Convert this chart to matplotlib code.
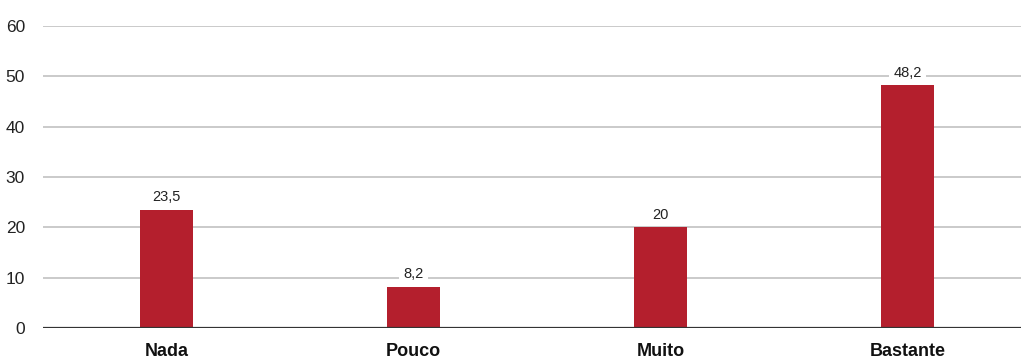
import matplotlib
matplotlib.use("Agg")
import matplotlib.pyplot as plt
from matplotlib import font_manager

categories = ["Nada", "Pouco", "Muito", "Bastante"]
values = [23.5, 8.2, 20, 48.2]
value_labels = ["23,5", "8,2", "20", "48,2"]
yticks = [0, 10, 20, 30, 40, 50, 60]

names = {f.name for f in font_manager.fontManager.ttflist}
family = [f for f in ["Liberation Sans Narrow", "DejaVu Sans Condensed", "Liberation Sans"] if f in names] + ["DejaVu Sans"]
plt.rcParams["font.family"] = family

W, H = 1021, 362
fig = plt.figure(figsize=(W / 100, H / 100), dpi=100)
ax = fig.add_axes([43 / W, (H - 328) / H, 1 - 43 / W, (328 - 26) / H])

bar_color = "#B41F2D"
x = list(range(len(categories)))
ax.bar(x, values, width=0.215, color=bar_color, zorder=5)

for xi, v, lab in zip(x, values, value_labels):
    ax.annotate(lab, (xi, v), xytext=(0, 4), textcoords="offset points",
                ha="center", va="bottom", fontsize=10.5, color="#222222", zorder=4,
                bbox=dict(boxstyle="square,pad=0.3", fc="white", ec="none"))

ax.set_ylim(0, 60)
ax.set_xlim(-0.5, 3.5 - 10 / 247)
ax.set_yticks(yticks)
ax.set_yticklabels([str(t) for t in yticks], fontsize=12.5, color="#222222")
ax.set_xticks(x)
ax.set_xticklabels(categories, fontsize=13, fontweight="bold", color="#111111")
ax.tick_params(axis="both", length=0)
ax.tick_params(axis="y", pad=13)
ax.tick_params(axis="x", pad=11)

for t in yticks[1:]:
    ax.axhline(t, color="#C6C6C6", lw=1.3, zorder=1)
ax.axhline(0, color="#333333", lw=1.6, zorder=6)

for s in ax.spines.values():
    s.set_visible(False)

fig.savefig("out.png", dpi=100)
